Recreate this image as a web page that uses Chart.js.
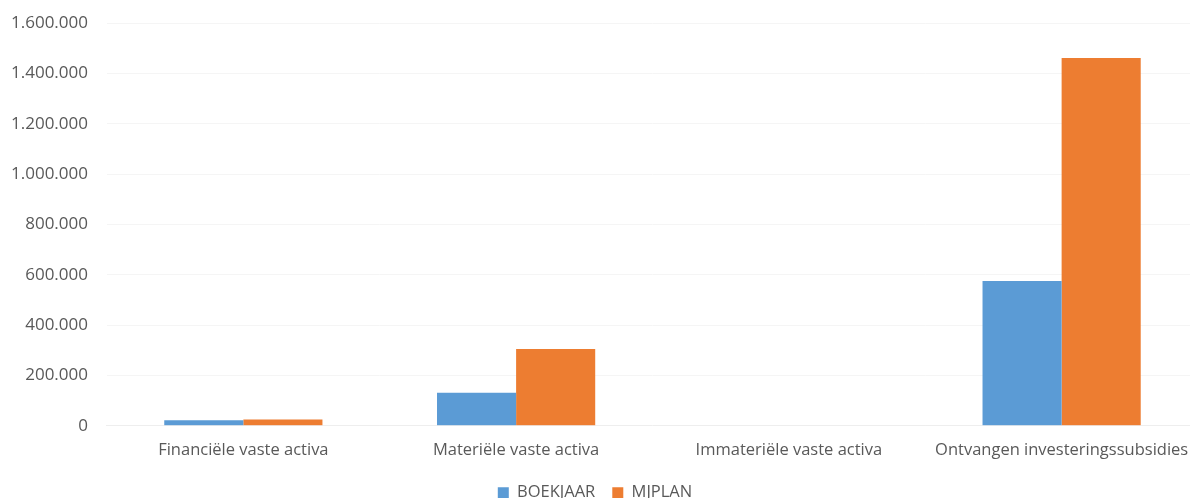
<!DOCTYPE html>
<html>
<head>
<meta charset="utf-8">
<script src="https://cdn.jsdelivr.net/npm/chart.js@4/dist/chart.umd.min.js"></script>
<style>
html,body{margin:0;padding:0;background:#fff;overflow:hidden;}
#outer{width:1190px;height:498px;overflow:hidden;position:relative;}
#c{position:absolute;left:0;top:-6px;}
</style>
</head>
<body>
<div id="outer"><canvas id="c" width="1224" height="517"></canvas></div>
<script>
const categories = ["Financiële vaste activa", "Materiële vaste activa", "Immateriële vaste activa", "Ontvangen investeringssubsidies"];
const boekjaar = [22000, 131000, 0, 575000];
const mjplan = [25000, 305000, 0, 1462000];
const seriesNames = ["BOEKJAAR", "MJPLAN"];

function fmt(v){
  return String(Math.round(v)).replace(/\B(?=(\d{3})+(?!\d))/g, ".");
}

new Chart(document.getElementById('c'), {
  type: 'bar',
  data: {
    labels: categories,
    datasets: [
      {label: seriesNames[0], data: boekjaar, backgroundColor: '#5B9BD5', barPercentage: 1, categoryPercentage: 0.58},
      {label: seriesNames[1], data: mjplan, backgroundColor: '#ED7D31', barPercentage: 1, categoryPercentage: 0.58}
    ]
  },
  options: {
    responsive: false,
    maintainAspectRatio: false,
    animation: false,
    layout: {padding: {top: 0, left: -8, right: 26, bottom: 0}},
    plugins: {
      legend: {
        position: 'bottom',
        labels: {
          boxWidth: 11, boxHeight: 11, padding: 17,
          color: '#595959',
          font: {family: 'Open Sans', size: 16.5}
        }
      },
      tooltip: {enabled: false}
    },
    scales: {
      x: {
        grid: {display: false},
        border: {display: true, color: '#eeeeee'},
        ticks: {color: '#595959', font: {family: 'Open Sans', size: 16.5}, padding: 7, maxRotation: 0}
      },
      y: {
        min: 0, max: 1600000,
        grid: {color: '#f5f5f5', drawTicks: false},
        border: {display: false},
        ticks: {stepSize: 200000, color: '#595959', font: {family: 'Open Sans', size: 17}, padding: 19, callback: v => fmt(v)}
      }
    }
  }
});
</script>
</body>
</html>
